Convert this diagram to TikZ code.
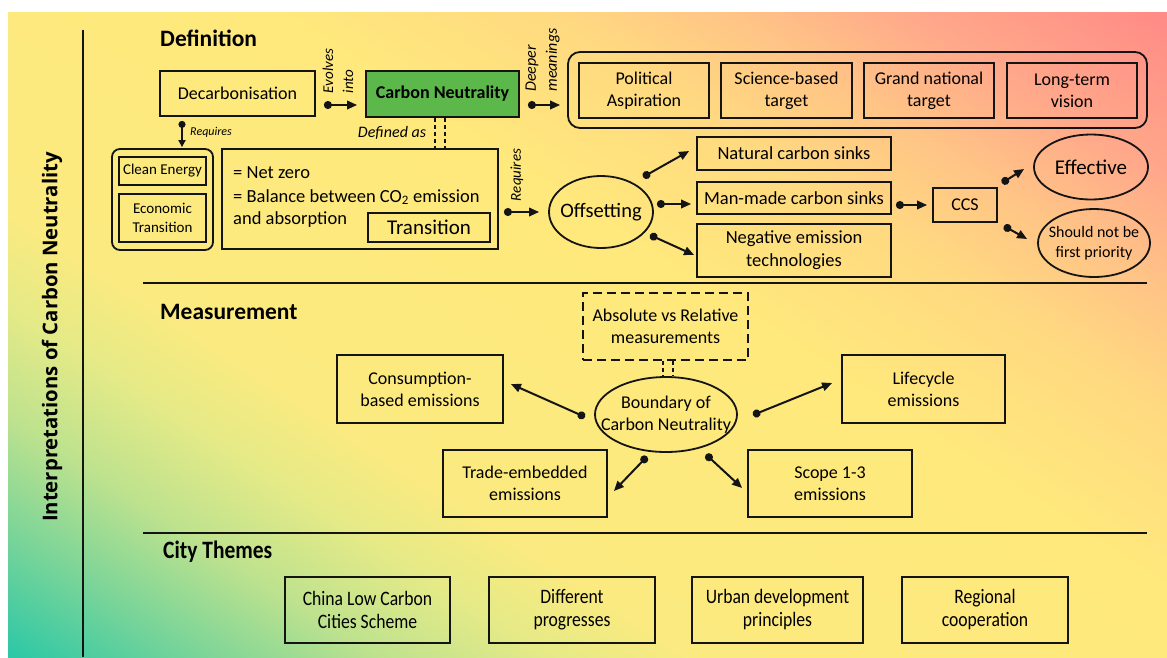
\documentclass[tikz,border=0pt]{standalone}
\usepackage{fontspec}
\setmainfont{Carlito}
\newfontfamily\ttlfont{Open Sans}
\newfontfamily\condfont{Carlito}[FakeStretch=0.86]
\usetikzlibrary{arrows.meta,shapes.geometric}
\newcommand\fsz[2]{\fontsize{#1}{#2}\selectfont}
\definecolor{bgA}{HTML}{2EC8A6}
\definecolor{bgB}{HTML}{7DD598}
\definecolor{bgC}{HTML}{BEE28E}
\definecolor{bgD}{HTML}{E5EA87}
\definecolor{bgE}{HTML}{FBEA80}
\definecolor{bgF}{HTML}{FFE97C}
\definecolor{bgG}{HTML}{FFDA80}
\definecolor{bgH}{HTML}{FFC486}
\definecolor{bgI}{HTML}{FFA98A}
\definecolor{bgJ}{HTML}{FF8B86}
\definecolor{cngreen}{RGB}{92,184,75}
\definecolor{ink}{HTML}{141414}
\pgfdeclarehorizontalshading{bgshade}{100bp}{color(0bp)=(bgA); color(25bp)=(bgA); color(29.5bp)=(bgB); color(33.5bp)=(bgC); color(37.5bp)=(bgD); color(41bp)=(bgE); color(54bp)=(bgF); color(60.5bp)=(bgG); color(65bp)=(bgH); color(69bp)=(bgI); color(75bp)=(bgJ); color(100bp)=(bgJ)}
\tikzset{
  bx/.style={draw=ink, line width=1.8pt, inner sep=0pt, align=center, font=\fsz{18}{22}},
  grpbox/.style={draw=ink, line width=1.8pt, inner sep=0pt},
  ell/.style={draw=ink, ellipse, line width=1.8pt, inner ysep=0pt, align=center},
  conn/.style={draw=ink, line width=2pt, {Circle[length=8pt]}-{Triangle[length=10pt,width=8.5pt]}},
  dline/.style={draw=ink, line width=2pt, dash pattern=on 4pt off 3pt},
  hd/.style={anchor=west, inner sep=0pt, font=\bfseries\fsz{23.5}{26}},
  lbl/.style={inner sep=0pt, font=\itshape\fsz{15}{19}},
  txt/.style={anchor=west, inner sep=0pt, font=\fsz{18.5}{21}},
  citybx/.style={bx, minimum height=66pt, font=\condfont\fsz{20.5}{23}},
  sepline/.style={draw=ink, line width=2pt},
}
\begin{document}
\begin{tikzpicture}[x=1pt,y=-1pt]
\useasboundingbox (0,0) rectangle (1167,657);
\fill[white] (0,0) rectangle (1167,657);
\begin{scope}
\clip (8,12) rectangle (1167,657);
\shade[shading=bgshade, shading angle=57] (1.5,-251.5) rectangle (1173.5,920.5);
\end{scope}

% frame lines
\coordinate (vtop) at (83,30);
\coordinate (vbot) at (83,657);
\draw[sepline] (vtop) -- (vbot);
\coordinate (s1a) at (143,283);
\coordinate (s1b) at (1147,283);
\coordinate (s2a) at (143,533);
\coordinate (s2b) at (1147,533);
\draw[sepline] (s1a) -- (s1b);
\draw[sepline] (s2a) -- (s2b);

\node[rotate=90, inner sep=0pt, font=\ttlfont\bfseries\fsz{20.3}{22}] (title) at (52,337) {Interpretations of Carbon Neutrality};

\node[hd] (hdef) at (160,38) {Definition};
\node[hd] (hmeas) at (160,312) {Measurement};
\node[hd, font=\condfont\bfseries\fsz{25}{28}] (hcity) at (163,552) {City Themes};

% ---------- Definition ----------
\node[bx, minimum width=155pt, minimum height=45pt] (decarb) at (237.5,93.5) {Decarbonisation};
\node[bx, fill=cngreen, minimum width=153pt, minimum height=46pt, font=\bfseries\fsz{18}{20}] (cn) at (442.5,94) {Carbon Neutrality};
\node[grpbox, rounded corners=12pt, minimum width=579pt, minimum height=76pt] (meangrp) at (857.5,90) {};
\node[bx, minimum width=130pt, minimum height=55pt] (pol) at (644,90.5) {Political\\Aspiration};
\node[bx, minimum width=131pt, minimum height=55pt] (sci) at (786.5,90.5) {Science-based\\target};
\node[bx, minimum width=130pt, minimum height=55pt] (grand) at (929,90.5) {Grand national\\target};
\node[bx, minimum width=130pt, minimum height=55pt] (longt) at (1072,90.5) {Long-term\\vision};

\node[grpbox, rounded corners=8pt, minimum width=101pt, minimum height=101pt] (lgrp) at (162.5,199.5) {};
\node[bx, minimum width=87pt, minimum height=28pt, font=\fsz{15}{18}] (clean) at (162.5,171) {Clean Energy};
\node[bx, minimum width=87pt, minimum height=48pt, font=\fsz{15}{19}] (econ) at (162.5,218) {Economic\\Transition};

\node[bx, minimum width=276pt, minimum height=100pt] (defbox) at (360,199) {};
\node[txt] (t1) at (233,173) {= Net zero};
\node[txt] (t2) at (233,197) {= Balance between CO\textsubscript{2} emission};
\node[txt] (t3) at (233,220) {and absorption};
\node[bx, minimum width=122pt, minimum height=29pt, font=\fsz{21}{24}] (trans) at (429,227.5) {Transition};

\node[ell, minimum width=104pt, minimum height=72pt, inner xsep=-15pt, font=\fsz{20.5}{24}] (offset) at (601,212) {Offsetting};
\node[bx, minimum width=194pt, minimum height=33pt, font=\fsz{18.5}{22}] (natural) at (794,153.5) {Natural carbon sinks};
\node[bx, minimum width=194pt, minimum height=32pt, font=\fsz{18.5}{22}] (manmade) at (794,198) {Man-made carbon sinks};
\node[bx, minimum width=194pt, minimum height=53pt, font=\fsz{18.5}{23}] (negative) at (794,250.5) {Negative emission\\technologies};
\node[bx, minimum width=64pt, minimum height=34pt] (ccs) at (965,205) {CCS};
\node[ell, minimum width=114pt, minimum height=65pt, inner xsep=-10pt, font=\fsz{21}{24}] (effective) at (1091,167) {Effective};
\node[ell, minimum width=112pt, minimum height=68pt, inner xsep=-18pt, font=\fsz{16}{20}] (shouldnot) at (1094,243) {Should not be\\first priority};

% labels
\node[lbl, rotate=90, align=left, font=\itshape\fsz{15}{20}] (levolve) at (338,71) {Evolves\\into};
\node[lbl, rotate=90, align=left, font=\itshape\fsz{16}{21}] (ldeep) at (542.5,60) {Deeper\\meanings};
\node[lbl, font=\itshape\fsz{16}{19}] (ldefas) at (392,133) {Defined as};
\node[lbl, anchor=west, font=\itshape\fsz{12}{14}] (lreq1) at (190,132) {Requires};
\node[lbl, rotate=90] (lreq2) at (517,175) {Requires};

% connectors
\coordinate (a1s) at ([shift={(8,11.5)}]decarb.east);
\coordinate (a1e) at ([shift={(-8,11)}]cn.west);
\draw[conn] (a1s) -- (a1e);
\coordinate (a2s) at ([shift={(8,11)}]cn.east);
\coordinate (a2e) at ([shift={(-7,15)}]meangrp.west);
\draw[conn] (a2s) -- (a2e);
\coordinate (a3s) at ([shift={(-55.5,4)}]decarb.south);
\coordinate (a3e) at ([shift={(19.5,-1)}]lgrp.north);
\draw[conn, {Circle[length=7pt]}-{Triangle[length=7pt,width=7pt]}] (a3s) -- (a3e);
\coordinate (a4s) at ([shift={(5,13)}]defbox.east);
\coordinate (a4e) at ([shift={(-9,0)}]offset.west);
\draw[conn] (a4s) -- (a4e);
\coordinate (a5s) at ([shift={(42,-35)}]offset.center);
\coordinate (a5e) at ([shift={(-7,-2.5)}]natural.west);
\draw[conn] (a5s) -- (a5e);
\coordinate (a6s) at ([shift={(3,-8)}]offset.east);
\coordinate (a6e) at ([shift={(-5,6)}]manmade.west);
\draw[conn] (a6s) -- (a6e);
\coordinate (a7s) at ([shift={(49,23)}]offset.center);
\coordinate (a7e) at ([shift={(-2,4.5)}]negative.west);
\draw[conn] (a7s) -- (a7e);
\coordinate (a8s) at ([shift={(4,7)}]manmade.east);
\coordinate (a8e) at ([shift={(-5,0)}]ccs.west);
\draw[conn] (a8s) -- (a8e);
\coordinate (a9s) at ([shift={(4,-22)}]ccs.east);
\coordinate (a9e) at ([shift={(-9,2)}]effective.west);
\draw[conn] (a9s) -- (a9e);
\coordinate (a10s) at ([shift={(6,21)}]ccs.east);
\coordinate (a10e) at ([shift={(-10,-4)}]shouldnot.west);
\draw[conn] (a10s) -- (a10e);

% double dashed link
\coordinate (d1a) at ([xshift=-7.5pt]cn.south);
\coordinate (d1b) at (d1a |- defbox.north);
\coordinate (d2a) at ([xshift=2.5pt]cn.south);
\coordinate (d2b) at (d2a |- defbox.north);
\draw[dline] (d1a) -- (d1b);
\draw[dline] (d2a) -- (d2b);

% ---------- Measurement ----------
\node[bx, dash pattern=on 9pt off 5pt, line width=2pt, minimum width=165pt, minimum height=67pt] (absrel) at (665.5,326.5) {Absolute vs Relative\\measurements};
\node[ell, minimum width=142pt, minimum height=75pt, inner xsep=-25pt, font=\fsz{18}{22}] (boundary) at (666,414.5) {Boundary of\\Carbon Neutrality};
\node[bx, minimum width=166pt, minimum height=68pt] (consum) at (420,389) {Consumption-\\based emissions};
\node[bx, minimum width=163pt, minimum height=68pt] (lifec) at (923.5,389) {Lifecycle\\emissions};
\node[bx, minimum width=164pt, minimum height=67pt] (trade) at (525,483.5) {Trade-embedded\\emissions};
\node[bx, minimum width=164pt, minimum height=67pt] (scope) at (830,483.5) {Scope 1-3\\emissions};

\coordinate (d3a) at ([xshift=-2.5pt]absrel.south);
\coordinate (d3b) at (d3a |- boundary.north);
\coordinate (d4a) at ([xshift=7.5pt]absrel.south);
\coordinate (d4b) at (d4a |- boundary.north);
\draw[dline] (d3a) -- (d3b);
\draw[dline] (d4a) -- (d4b);

\coordinate (b1s) at ([shift={(-9,2.5)}]boundary.west);
\coordinate (b1e) at ([shift={(7,-5)}]consum.east);
\draw[conn] (b1s) -- (b1e);
\coordinate (b2s) at ([shift={(15,0.5)}]boundary.east);
\coordinate (b2e) at ([shift={(-9,-6)}]lifec.west);
\draw[conn] (b2s) -- (b2e);
\coordinate (b3s) at ([shift={(-19,42)}]boundary.center);
\coordinate (b3e) at ([shift={(6,7.5)}]trade.east);
\draw[conn] (b3s) -- (b3e);
\coordinate (b4s) at ([shift={(40,40)}]boundary.center);
\coordinate (b4e) at ([shift={(-5,4.5)}]scope.west);
\draw[conn] (b4s) -- (b4e);

% ---------- City Themes ----------
\node[citybx, minimum width=165pt] (china) at (367.5,610) {China Low Carbon\\Cities Scheme};
\node[citybx, minimum width=166pt] (diff) at (572,610) {Different\\progresses};
\node[citybx, minimum width=171pt] (urban) at (777.5,610) {Urban development\\principles};
\node[citybx, minimum width=166pt] (regional) at (985,610) {Regional\\cooperation};
\end{tikzpicture}
\end{document}
